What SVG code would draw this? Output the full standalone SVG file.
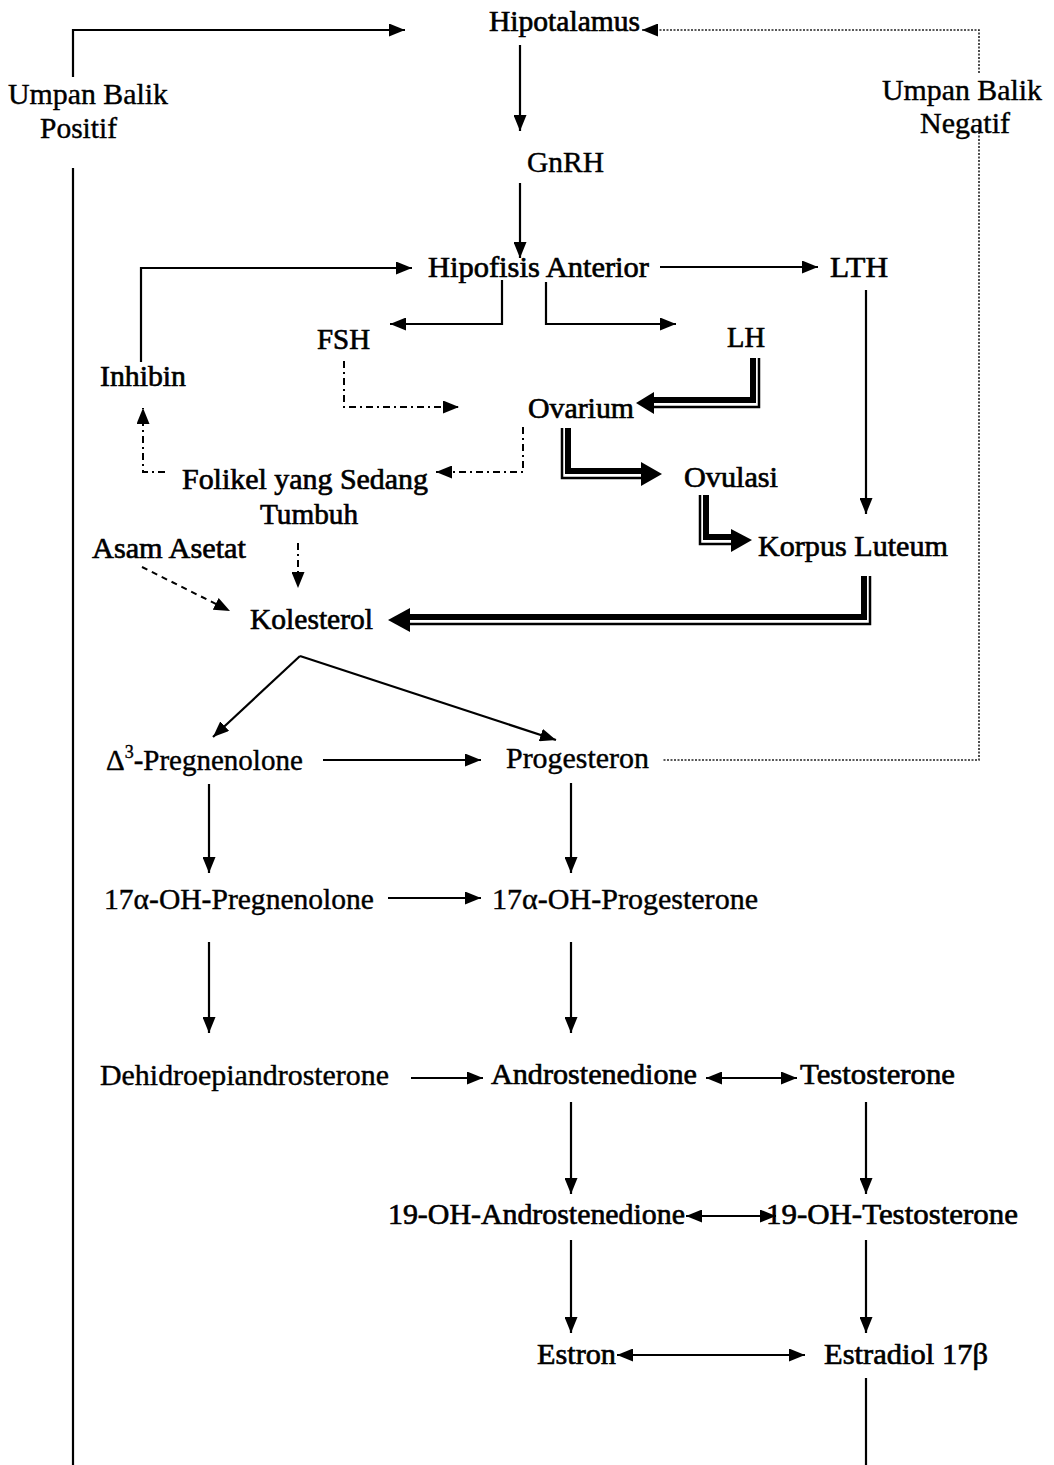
<svg xmlns="http://www.w3.org/2000/svg" width="1054" height="1465" viewBox="0 0 1054 1465">
  <style>
    text { font-family: "Liberation Serif", "Times New Roman", serif; font-size: 29px; fill: #000; stroke: #000; stroke-width: 0.4; }
    .hv { stroke-width: 0.65; }
    .ln { fill: none; stroke: #000; stroke-width: 2.2; }
    .dd { fill: none; stroke: #000; stroke-width: 2; stroke-dasharray: 7 4 2 4; }
    .ds { fill: none; stroke: #000; stroke-width: 2; stroke-dasharray: 6 5; }
    .fb { fill: none; stroke: #222; stroke-width: 1.6; stroke-dasharray: 2 1.5; }
    .thick { fill: none; stroke: #000; stroke-width: 6; stroke-linejoin: miter; }
    .thin { fill: none; stroke: #000; stroke-width: 2.5; }
    .head { fill: #000; }
  </style>
  <defs>
    <marker id="ah" viewBox="0 0 16 13" refX="16" refY="6.5" markerWidth="16" markerHeight="13" markerUnits="userSpaceOnUse" orient="auto-start-reverse">
      <path d="M0,0 L16,6.5 L0,13 z" fill="#000"/>
    </marker>
  </defs>
  <rect width="1054" height="1465" fill="#fff"/>

  <g id="connectors">
    <!-- positive feedback loop on the left -->
    <polyline class="ln" points="73,77 73,30 405,30" marker-end="url(#ah)"/>
    <line class="ln" x1="73" y1="168" x2="73" y2="1465"/>
    <!-- negative feedback loop on the right -->
    <polyline class="fb" points="979,73 979,30 642,30" marker-end="url(#ah)"/>
    <polyline class="fb" points="979,125 979,760 662,760"/>

    <!-- hypothalamus axis -->
    <line class="ln" x1="520" y1="45" x2="520" y2="131" marker-end="url(#ah)"/>
    <line class="ln" x1="520" y1="183" x2="520" y2="258" marker-end="url(#ah)"/>
    <line class="ln" x1="660" y1="267" x2="818" y2="267" marker-end="url(#ah)"/>
    <polyline class="ln" points="141,362 141,268 412,268" marker-end="url(#ah)"/>
    <polyline class="ln" points="502,280 502,324 390,324" marker-end="url(#ah)"/>
    <polyline class="ln" points="546,282 546,324 676,324" marker-end="url(#ah)"/>
    <line class="ln" x1="866" y1="290" x2="866" y2="514" marker-end="url(#ah)"/>

    <!-- dash-dot links around the ovary -->
    <polyline class="dd" points="344,361 344,407 459,407" marker-end="url(#ah)"/>
    <polyline class="dd" points="523,427 523,472 436,472" marker-end="url(#ah)"/>
    <polyline class="dd" points="165,472 143,472 143,408" marker-end="url(#ah)"/>
    <line class="dd" x1="298" y1="543" x2="298" y2="588" marker-end="url(#ah)"/>
    <line class="ds" x1="142" y1="567" x2="230" y2="611" marker-end="url(#ah)"/>

    <!-- double (thick + thin) arrows -->
    <g id="lh-ovarium">
      <path class="thick" d="M753,358 V400 H650"/>
      <path class="thin" d="M759,358 V407 H650"/>
      <polygon class="head" points="636,403 654,392 654,414"/>
    </g>
    <g id="ovarium-ovulasi">
      <path class="thick" d="M568,428 V471 H645"/>
      <path class="thin" d="M562,428 V478 H645"/>
      <polygon class="head" points="662,474 641,462 641,486"/>
    </g>
    <g id="ovulasi-korpus">
      <path class="thick" d="M706,495 V537 H733"/>
      <path class="thin" d="M700,495 V544 H733"/>
      <polygon class="head" points="752,540 731,529 731,552"/>
    </g>
    <g id="korpus-kolesterol">
      <path class="thick" d="M864,576 V617 H405"/>
      <path class="thin" d="M870,576 V624 H405"/>
      <polygon class="head" points="388,620 410,608 410,632"/>
    </g>

    <!-- steroid synthesis pathway -->
    <line class="ln" x1="300" y1="656" x2="213" y2="737" marker-end="url(#ah)"/>
    <line class="ln" x1="300" y1="656" x2="556" y2="740" marker-end="url(#ah)"/>
    <line class="ln" x1="323" y1="760" x2="481" y2="760" marker-end="url(#ah)"/>
    <line class="ln" x1="209" y1="784" x2="209" y2="873" marker-end="url(#ah)"/>
    <line class="ln" x1="571" y1="783" x2="571" y2="873" marker-end="url(#ah)"/>
    <line class="ln" x1="388" y1="898" x2="481" y2="898" marker-end="url(#ah)"/>
    <line class="ln" x1="209" y1="942" x2="209" y2="1033" marker-end="url(#ah)"/>
    <line class="ln" x1="571" y1="942" x2="571" y2="1033" marker-end="url(#ah)"/>
    <line class="ln" x1="411" y1="1078" x2="483" y2="1078" marker-end="url(#ah)"/>
    <line class="ln" x1="706" y1="1078" x2="797" y2="1078" marker-start="url(#ah)" marker-end="url(#ah)"/>
    <line class="ln" x1="571" y1="1102" x2="571" y2="1194" marker-end="url(#ah)"/>
    <line class="ln" x1="866" y1="1102" x2="866" y2="1194" marker-end="url(#ah)"/>
    <line class="ln" x1="686" y1="1216" x2="776" y2="1216" marker-start="url(#ah)" marker-end="url(#ah)"/>
    <line class="ln" x1="571" y1="1240" x2="571" y2="1333" marker-end="url(#ah)"/>
    <line class="ln" x1="866" y1="1240" x2="866" y2="1333" marker-end="url(#ah)"/>
    <line class="ln" x1="617" y1="1355" x2="805" y2="1355" marker-start="url(#ah)" marker-end="url(#ah)"/>
    <line class="ln" x1="866" y1="1378" x2="866" y2="1465"/>
  </g>

  <g id="hipotalamus"><text class="hv" x="489" y="31" textLength="151" lengthAdjust="spacingAndGlyphs">Hipotalamus</text></g>
  <g id="umpan-balik-positif">
    <text x="8" y="104" textLength="160" lengthAdjust="spacingAndGlyphs">Umpan Balik</text>
    <text x="40" y="138" textLength="77" lengthAdjust="spacingAndGlyphs">Positif</text>
  </g>
  <g id="umpan-balik-negatif">
    <text x="882" y="100" textLength="160" lengthAdjust="spacingAndGlyphs">Umpan Balik</text>
    <text x="920" y="133" textLength="90" lengthAdjust="spacingAndGlyphs">Negatif</text>
  </g>
  <g id="gnrh"><text x="527" y="172" textLength="77" lengthAdjust="spacingAndGlyphs">GnRH</text></g>
  <g id="hipofisis"><text class="hv" x="428" y="277" textLength="221" lengthAdjust="spacingAndGlyphs">Hipofisis Anterior</text></g>
  <g id="lth"><text class="hv" x="830" y="277" textLength="58" lengthAdjust="spacingAndGlyphs">LTH</text></g>
  <g id="fsh"><text class="hv" x="317" y="349" textLength="53" lengthAdjust="spacingAndGlyphs">FSH</text></g>
  <g id="lh"><text class="hv" x="727" y="347" textLength="38" lengthAdjust="spacingAndGlyphs">LH</text></g>
  <g id="inhibin"><text class="hv" x="100" y="386" textLength="86" lengthAdjust="spacingAndGlyphs">Inhibin</text></g>
  <g id="ovarium"><text class="hv" x="528" y="418" textLength="106" lengthAdjust="spacingAndGlyphs">Ovarium</text></g>
  <g id="folikel">
    <text class="hv" x="182" y="489" textLength="246" lengthAdjust="spacingAndGlyphs">Folikel yang Sedang</text>
    <text class="hv" x="260" y="524" textLength="98" lengthAdjust="spacingAndGlyphs">Tumbuh</text>
  </g>
  <g id="ovulasi"><text class="hv" x="684" y="487" textLength="94" lengthAdjust="spacingAndGlyphs">Ovulasi</text></g>
  <g id="asam-asetat"><text class="hv" x="92" y="558" textLength="154" lengthAdjust="spacingAndGlyphs">Asam Asetat</text></g>
  <g id="korpus-luteum"><text class="hv" x="758" y="556" textLength="190" lengthAdjust="spacingAndGlyphs">Korpus Luteum</text></g>
  <g id="kolesterol"><text class="hv" x="250" y="629" textLength="123" lengthAdjust="spacingAndGlyphs">Kolesterol</text></g>
  <g id="pregnenolone"><text x="106" y="770">Δ<tspan font-size="18" dy="-12">3</tspan><tspan dy="12">-Pregnenolone</tspan></text></g>
  <g id="progesteron"><text x="506" y="768" textLength="143" lengthAdjust="spacingAndGlyphs">Progesteron</text></g>
  <g id="oh-pregnenolone"><text x="104" y="909" textLength="270" lengthAdjust="spacingAndGlyphs">17α-OH-Pregnenolone</text></g>
  <g id="oh-progesterone"><text x="492" y="909" textLength="266" lengthAdjust="spacingAndGlyphs">17α-OH-Progesterone</text></g>
  <g id="dhea"><text x="100" y="1085" textLength="289" lengthAdjust="spacingAndGlyphs">Dehidroepiandrosterone</text></g>
  <g id="androstenedione"><text class="hv" x="491" y="1084" textLength="206" lengthAdjust="spacingAndGlyphs">Androstenedione</text></g>
  <g id="testosterone"><text class="hv" x="800" y="1084" textLength="155" lengthAdjust="spacingAndGlyphs">Testosterone</text></g>
  <g id="oh-androstenedione"><text class="hv" x="388" y="1224" textLength="297" lengthAdjust="spacingAndGlyphs">19-OH-Androstenedione</text></g>
  <g id="oh-testosterone"><text class="hv" x="766" y="1224" textLength="252" lengthAdjust="spacingAndGlyphs">19-OH-Testosterone</text></g>
  <g id="estron"><text class="hv" x="537" y="1364" textLength="79" lengthAdjust="spacingAndGlyphs">Estron</text></g>
  <g id="estradiol"><text class="hv" x="824" y="1364" textLength="164" lengthAdjust="spacingAndGlyphs">Estradiol 17β</text></g>
</svg>
